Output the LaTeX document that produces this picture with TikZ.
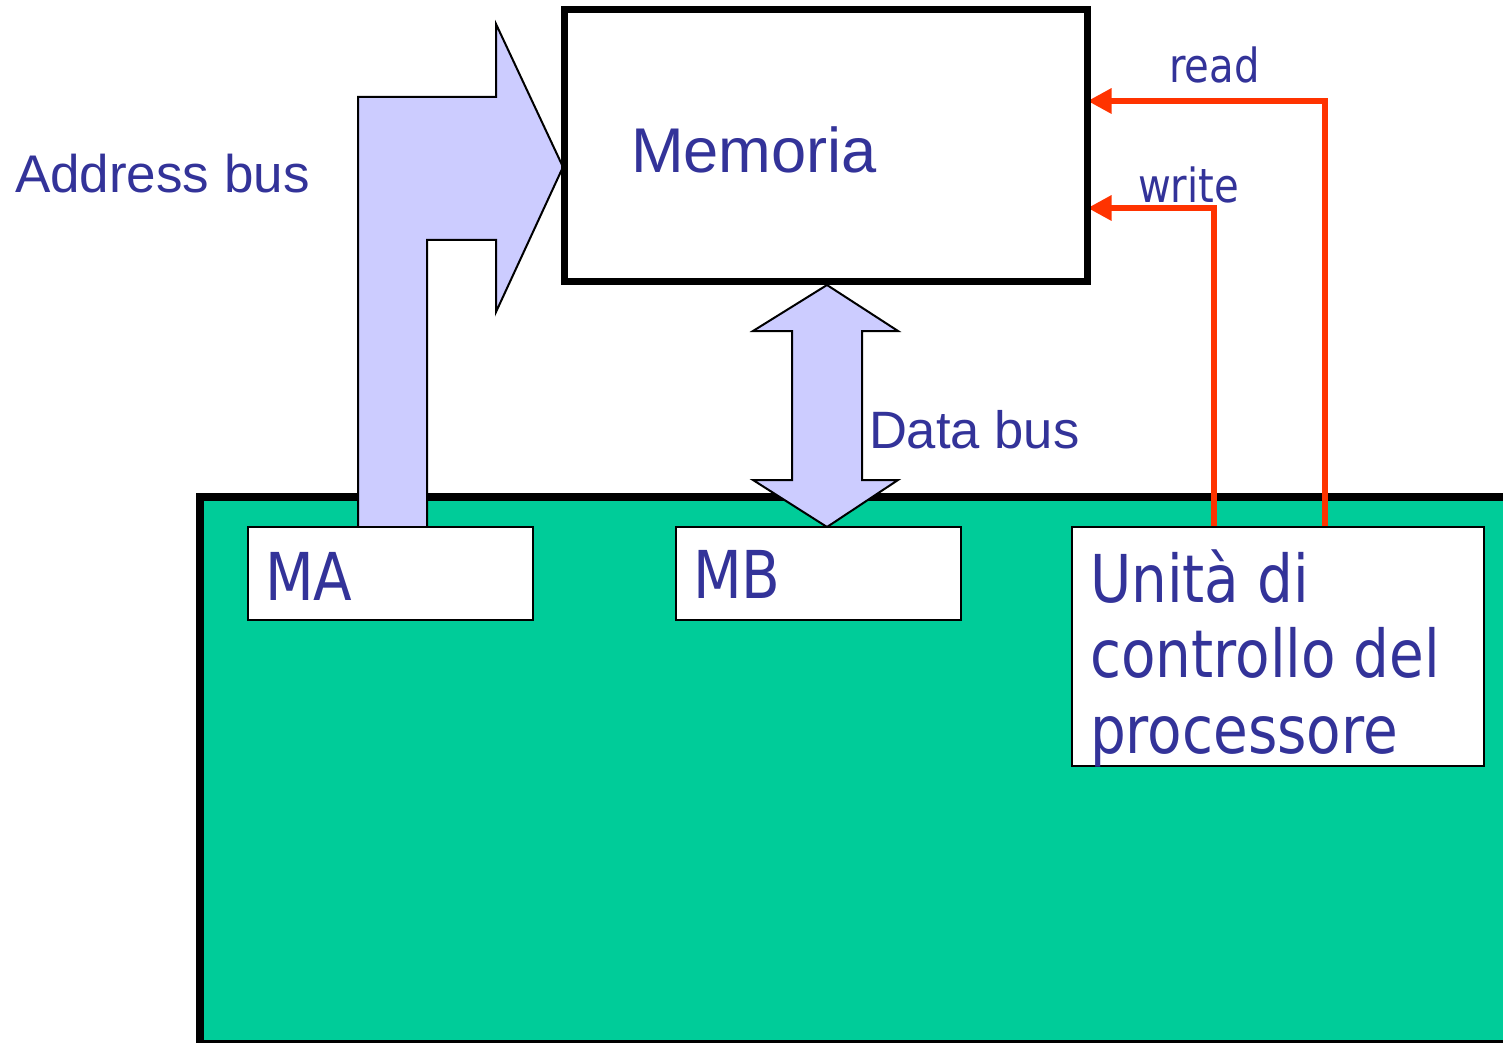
\documentclass[tikz,border=0pt]{standalone}
\usepackage{fontspec}
\usetikzlibrary{fit,arrows.meta}
\newfontfamily\arialf{Liberation Sans}
\newfontfamily\tahf[FakeStretch=0.855]{DejaVu Sans}
\definecolor{txtblue}{HTML}{333399}
\definecolor{buslav}{HTML}{CCCCFF}
\definecolor{cpugreen}{HTML}{00CC99}
\definecolor{sigred}{HTML}{FF3300}
\pgfdeclarelayer{backlayer}
\pgfdeclarelayer{midlayer}
\pgfsetlayers{backlayer,midlayer,main}
\begin{document}
\begin{tikzpicture}[x=0.5pt,y=-0.5pt,
  boxframe/.style={draw=black, inner sep=0pt, outer sep=0pt},
  regbox/.style={boxframe, fill=white, line width=1.2pt},
  bus/.style={draw=black, fill=buslav, line width=1pt, line join=miter},
  sig/.style={draw=sigred, line width=3pt, -{Triangle[length=12pt,width=12pt]}},
  lbl/.style={anchor=base west, inner sep=0pt, outer sep=0pt, text=txtblue}]
\useasboundingbox (0,0) rectangle (1503,1043);
\clip (0,0) rectangle (1503,1043);
% registers and memory (main layer)
\node[boxframe, fill=white, line width=3.5pt, fit={(564.5,10) (1087.5,281)}] (mem) {};
\node[lbl, font=\arialf\fontsize{31.6pt}{36pt}\selectfont] (memlabel) at (631,173) {Memoria};
\node[regbox, fit={(248,527) (533,620)}] (ma) {};
\node[regbox, fit={(676,527) (961,620)}] (mb) {};
\node[regbox, fit={(1072,527) (1484,766)}] (unit) {};
% processor
\begin{pgfonlayer}{backlayer}
\node[boxframe, fill=cpugreen, line width=4pt, fit={(200,497) (1540,1044)}] (cpu) {};
\end{pgfonlayer}
\begin{pgfonlayer}{midlayer}
% address bus
\draw[bus] (358,0 |- ma.north) -- (358,97) -- (496,97) -- (496,24) -- (563,167)
  -- (496,312) -- (496,240) -- (427,240) -- (427,0 |- ma.north) -- cycle;
% data bus
\draw[bus] (827,285) -- (898,331) -- (862,331) -- (862,480) -- (898,480)
  -- (827,0 |- mb.north) -- (753,480) -- (792,480) -- (792,331) -- (753,331) -- cycle;
% control signals
\draw[sig] (1325,0 |- unit.north) |- (mem.east |- 0,101);
\draw[sig] (1214,0 |- unit.north) |- (mem.east |- 0,208);
\end{pgfonlayer}
% labels
\node[lbl, font=\arialf\fontsize{26.5pt}{32pt}\selectfont] (addrlabel) at (15,193) {Address bus};
\node[lbl, font=\arialf\fontsize{26.3pt}{32pt}\selectfont] (datalabel) at (869,448) {Data bus};
\node[lbl, font=\tahf\fontsize{23.5pt}{28pt}\selectfont] (readlabel) at (1169,83) {read};
\node[lbl, font=\tahf\fontsize{23.5pt}{28pt}\selectfont] (writelabel) at (1138,203) {write};
\node[lbl, font=\tahf\fontsize{33pt}{40pt}\selectfont] (malabel) at (265,600) {MA};
\node[lbl, font=\tahf\fontsize{33pt}{40pt}\selectfont] (mblabel) at (693,598) {MB};
\node[lbl, font=\tahf\fontsize{33pt}{40pt}\selectfont] (unitlabel) at (1090,602)
  {\vtop{\baselineskip=37.75pt\lineskiplimit=-100pt\hbox{Unità di}\hbox{controllo del}\hbox{processore}}};
\end{tikzpicture}
\end{document}
